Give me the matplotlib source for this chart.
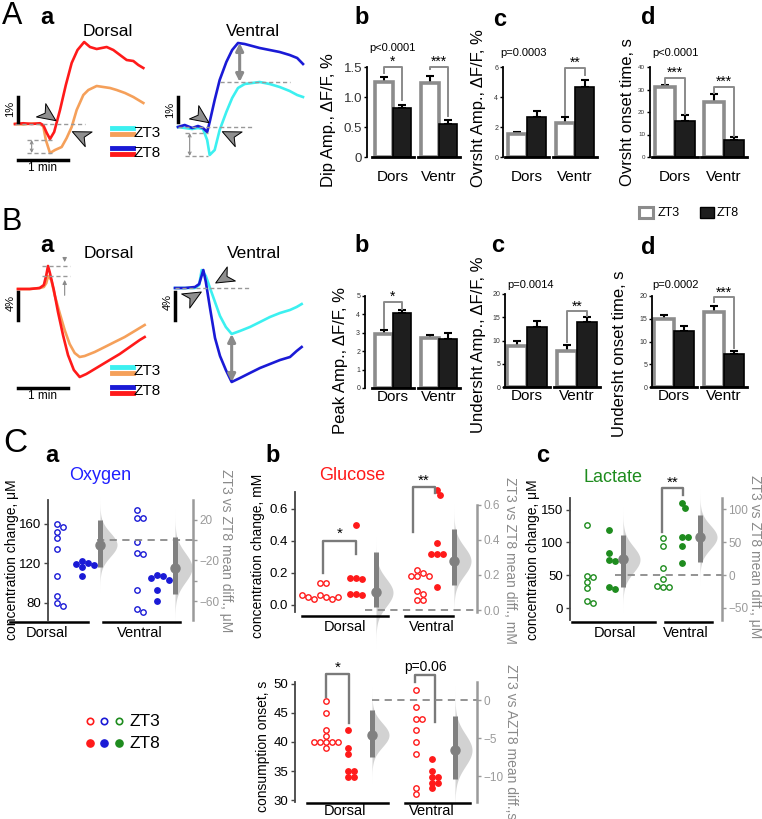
import numpy as np
import matplotlib
matplotlib.use("Agg")
import matplotlib.pyplot as plt
from matplotlib.lines import Line2D
from matplotlib.patches import Rectangle
from matplotlib.markers import MarkerStyle
from matplotlib.path import Path

plt.rcParams["font.family"] = ["Liberation Sans", "DejaVu Sans"]

W, H = 762, 819

RED = "#ff1a1a"
ORANGE = "#f5a05a"
BLUE = "#1a1ad6"
CYAN = "#3cf0f0"
GREEN = "#1e8c1e"
GREY = "#8c8c8c"

# ---------------- A a: fluorescence traces (time s, dF/F %) ----------------
A_DORS_T8 = [0, 10, 20, 30, 34, 38, 42, 47, 54, 61, 68, 75, 83, 90, 98, 104, 110, 118, 126, 134, 142, 148, 154]
A_DORS_ZT8 = [0, 0.03, 0, 0.03, -0.05, -0.35, -0.6, -0.32, 0.56, 1.56, 2.44, 2.96, 3.28, 3.08, 3.0, 3.04,
              3.08, 2.96, 2.76, 2.56, 2.52, 2.36, 2.24]
A_DORS_T3 = [0, 10, 20, 30, 34, 37, 42, 48, 56, 62, 68, 74, 82, 88, 98, 106, 114, 122, 132, 142, 154]
A_DORS_ZT3 = [0, -0.02, 0.02, 0, -0.1, -0.64, -1.16, -1.04, -0.92, -0.56, -0.12, 0.56, 1.16, 1.36, 1.52,
              1.48, 1.44, 1.36, 1.24, 1.08, 0.84]
A_VENT_T = [0, 8, 17, 24, 30, 35, 38, 44, 50, 58, 65, 72, 80, 89, 98, 110, 122, 134, 143, 150]
A_VENT_ZT8 = [0, 0.08, -0.04, 0.04, -0.04, -0.2, 0.2, 1.08, 1.88, 2.6, 3.08, 3.36, 3.32, 3.24, 3.16, 3.08,
              3.0, 2.88, 2.76, 2.52]
A_VENT_ZT3 = [0, -0.04, -0.08, -0.04, -0.08, -0.52, -1.12, -0.92, -0.12, 0.6, 1.16, 1.56, 1.72, 1.76, 1.8,
              1.72, 1.6, 1.44, 1.28, 1.2]

# ---------------- B a: fluorescence traces ----------------
B_DORS_T3 = [0, 14, 26, 31, 34, 36, 40, 44, 50, 56, 62, 68, 74, 80, 92, 104, 116, 128, 140, 152]
B_DORS_ZT3 = [0, 0, 0.14, 0.29, 0.86, 1.86, 1.29, -0.86, -3.43, -5.86, -7.86, -9.14, -9.71, -9.57, -9.0,
              -8.29, -7.57, -6.86, -6.0, -5.14]
B_DORS_T8 = [0, 14, 26, 31, 34, 36, 38, 43, 48, 54, 60, 67, 74, 82, 86, 98, 110, 122, 134, 146, 152]
B_DORS_ZT8 = [0, 0, 0.14, 0.57, 2.0, 3.29, 2.43, -0.14, -3.29, -6.57, -9.43, -11.57, -12.57, -12.14,
              -11.86, -11.0, -10.14, -9.29, -8.29, -7.29, -6.86]
B_VENT_T8 = [0, 12, 24, 29, 34, 37, 42, 48, 54, 61, 68, 78, 90, 102, 114, 126, 138, 146, 152]
B_VENT_ZT8 = [0, 0, 0.14, 0.57, 2.57, 0.86, -2.86, -7.14, -9.71, -11.71, -13.43, -12.86, -12.14, -11.43,
              -10.86, -10.29, -9.86, -9.0, -8.43]
B_VENT_T3 = [0, 12, 24, 29, 32, 37, 42, 48, 54, 61, 68, 78, 90, 102, 114, 126, 138, 146, 152]
B_VENT_ZT3 = [0, 0, 0, 0.43, 2.57, 1.71, 0, -2.0, -4.0, -5.57, -6.57, -6.14, -5.57, -4.86, -4.14, -3.57,
              -3.14, -2.71, -2.29]

# ---------------- bar charts (Dors, Ventr), mean and SEM ----------------
GROUPS = ["Dors", "Ventr"]
DIP_ZT3, DIP_ZT3_ERR = [1.25, 1.23], [0.08, 0.12]
DIP_ZT8, DIP_ZT8_ERR = [0.82, 0.55], [0.05, 0.07]
OVR_ZT3, OVR_ZT3_ERR = [1.55, 2.3], [0.12, 0.35]
OVR_ZT8, OVR_ZT8_ERR = [2.65, 4.7], [0.45, 0.45]
OVON_ZT3, OVON_ZT3_ERR = [31.0, 24.5], [1.0, 3.3]
OVON_ZT8, OVON_ZT8_ERR = [16.2, 7.7], [2.4, 1.1]
PEAK_ZT3, PEAK_ZT3_ERR = [2.95, 2.72], [0.2, 0.14]
PEAK_ZT8, PEAK_ZT8_ERR = [4.1, 2.65], [0.15, 0.33]
UND_ZT3, UND_ZT3_ERR = [8.9, 7.8], [1.0, 1.2]
UND_ZT8, UND_ZT8_ERR = [13.0, 13.9], [1.2, 1.2]
UNON_ZT3, UNON_ZT3_ERR = [14.9, 16.5], [0.9, 1.4]
UNON_ZT8, UNON_ZT8_ERR = [12.3, 7.2], [1.2, 0.7]

# ---------------- C: estimation plots ----------------
OXY_DORS_ZT3 = [159, 156, 151, 145, 134, 107, 87, 80, 76]
OXY_DORS_ZT8 = [122, 120, 119, 118, 116, 107]
OXY_VENT_ZT3 = [174, 166, 166, 141, 130, 129, 93, 73, 70]
OXY_VENT_ZT8 = [108, 107, 105, 103, 93, 82]
OXY_DIFF, OXY_LO, OXY_HI = [-4.5, -27], [-26, -53], [20, 3]

GLU_DORS_ZT3 = [0.14, 0.14, 0.06, 0.05, 0.04, 0.04, 0.05, 0.05, 0.06]
GLU_DORS_ZT8 = [0.50, 0.17, 0.16, 0.17, 0.07, 0.06, 0.07]
GLU_VENT_ZT3 = [0.22, 0.2, 0.18, 0.18, 0.18, 0.09, 0.07, 0.03, 0.03]
GLU_VENT_ZT8 = [0.72, 0.69, 0.39, 0.32, 0.32, 0.32, 0.11]
GLU_DIFF, GLU_LO, GLU_HI = [0.1, 0.28], [0.02, 0.14], [0.33, 0.46]

LAC_DORS_ZT3 = [126, 49, 48, 40, 31, 11, 8]
LAC_DORS_ZT8 = [119, 84, 73, 71, 32, 29]
LAC_VENT_ZT3 = [107, 95, 61, 44, 32, 32, 34]
LAC_VENT_ZT8 = [160, 152, 108, 108, 95, 69]
LAC_DIFF, LAC_LO, LAC_HI = [23.5, 57.5], [-17.5, 20], [60.5, 91]

ONS_DORS_ZT3 = [47, 45, 42, 41, 40, 40, 40, 40, 40, 39]
ONS_DORS_ZT8 = [42, 39, 38, 35, 35, 34, 34]
ONS_VENT_ZT3 = [49, 46, 44, 44, 42, 40, 38, 32, 31]
ONS_VENT_ZT8 = [37, 35, 34, 34, 33, 33, 32]
ONS_DIFF, ONS_LO, ONS_HI = [-4.6, -6.6], [-7.5, -10.4], [-1.3, -2.1]

fig = plt.figure(figsize=(W / 100, H / 100), dpi=100)


def px_axes(left, top, right, bottom):
    return fig.add_axes([left / W, 1 - bottom / H, (right - left) / W, (bottom - top) / H])


def ftext(x, y, s, **kw):
    kw.setdefault("ha", "center")
    kw.setdefault("va", "center")
    return fig.text(x / W, 1 - y / H, s, **kw)


def fline(xs, ys, **kw):
    fig.add_artist(Line2D([x / W for x in xs], [1 - y / H for y in ys], **kw))


DART = Path([(1, 0), (-1, 0.9), (-0.45, 0), (-1, -0.9), (1, 0)],
            [Path.MOVETO, Path.LINETO, Path.LINETO, Path.LINETO, Path.CLOSEPOLY])


def dart(ax, x, y, angle):
    ax.plot(x, y, marker=MarkerStyle(DART).rotated(deg=angle), ms=13, mfc="#8f8f8f", mec="black",
            mew=0.7, ls="none", clip_on=False)


def dash(ax, x0, x1, y):
    ax.plot([x0, x1], [y, y], ls=(0, (3, 2)), color="#999999", lw=1.0, clip_on=False)


def dbl_arrow(ax, x, y0, y1, thick=False):
    if thick:
        props = dict(arrowstyle="<|-|>", color="#8a8a8a", lw=2.2, mutation_scale=11, shrinkA=0, shrinkB=0)
    else:
        props = dict(arrowstyle="<->", color="#8a8a8a", lw=0.8, mutation_scale=5, shrinkA=0, shrinkB=0)
    ax.annotate("", xy=(x, y0), xytext=(x, y1), arrowprops=props)


def trace_axes(box, xlim, ylim):
    ax = px_axes(*box)
    ax.set_xlim(xlim)
    ax.set_ylim(ylim)
    ax.axis("off")
    return ax


# ======================= A a =======================
ax = trace_axes((5, 30, 165, 175), (-12, 180), (-2.04, 3.76))
ax.plot(A_DORS_T3, A_DORS_ZT3, color=ORANGE, lw=1.9)
ax.plot(A_DORS_T8, A_DORS_ZT8, color=RED, lw=1.9)
dash(ax, 0, 84, 0)
dash(ax, 14, 44, -0.64)
dash(ax, 14, 44, -1.16)
dbl_arrow(ax, 20, -0.64, -1.16)
dart(ax, 39, 0.36, -35)
dart(ax, 78, -0.44, 155)
ax.plot([3.6, 3.6], [0.08, 1.08], color="black", lw=2.5)
ax.plot([3.6, 63.6], [-1.44, -1.44], color="black", lw=2.5)

ax = trace_axes((165, 30, 310, 175), (-15.6, 158.4), (-1.92, 3.88))
ax.plot(A_VENT_T, A_VENT_ZT3, color=CYAN, lw=1.9)
ax.plot(A_VENT_T, A_VENT_ZT8, color=BLUE, lw=1.9)
dash(ax, 0, 90, 0)
dash(ax, 50, 134, 1.8)
dash(ax, 8, 36, -0.24)
dash(ax, 8, 36, -1.16)
dbl_arrow(ax, 14, -0.24, -1.16)
dbl_arrow(ax, 74, 1.8, 3.36, thick=True)
dart(ax, 28, 0.42, -35)
dart(ax, 62, -0.32, 155)
ax.plot([0, 0], [0.2, 1.2], color="black", lw=2.5)

ftext(12, 16, "A", fontsize=22)
ftext(47, 17, "a", fontsize=17, fontweight="bold")
ftext(108, 32, "Dorsal", fontsize=12.5)
ftext(253, 32, "Ventral", fontsize=12.5)
ftext(10, 109, "1%", fontsize=8, rotation=90)
ftext(170, 110, "1%", fontsize=8, rotation=90)
ftext(43, 168, "1 min", fontsize=8.5)
fline([112, 133], [128, 128], color=CYAN, lw=3.5)
fline([112, 133], [134, 134], color=ORANGE, lw=3.5)
fline([112, 133], [148, 148], color=BLUE, lw=3.5)
fline([112, 133], [154, 154], color=RED, lw=3.5)
ftext(134, 133, "ZT3", fontsize=11, ha="left")
ftext(134, 153, "ZT8", fontsize=11, ha="left")

# ======================= B a =======================
ax = trace_axes((5, 240, 165, 395), (-15.6, 176.4), (-15.14, 7.0))
ax.plot(B_DORS_T3, B_DORS_ZT3, color=ORANGE, lw=1.9)
ax.plot(B_DORS_T8, B_DORS_ZT8, color=RED, lw=1.9)
dash(ax, 29, 62, 3.29)
dash(ax, 29, 62, 1.86)
ax.annotate("", xy=(56, 3.45), xytext=(56, 4.9),
            arrowprops=dict(arrowstyle="-|>", color="#8a8a8a", lw=0.8, mutation_scale=6))
ax.annotate("", xy=(56, 1.7), xytext=(56, -1.3),
            arrowprops=dict(arrowstyle="-|>", color="#8a8a8a", lw=0.8, mutation_scale=6))
ax.plot([0, 0], [-0.43, -4.43], color="black", lw=2.5)
ax.plot([0, 60], [-14.1, -14.1], color="black", lw=2.5)

ax = trace_axes((165, 240, 310, 395), (-12, 162), (-15.29, 6.86))
ax.plot(B_VENT_T3, B_VENT_ZT3, color=CYAN, lw=1.9)
ax.plot(B_VENT_T8, B_VENT_ZT8, color=BLUE, lw=1.9)
dash(ax, 0, 90, 0)
dart(ax, 21, -1.14, 30)
dart(ax, 58, 1.43, -150)
dbl_arrow(ax, 68, -6.57, -13.43, thick=True)
ax.plot([0, 0], [-0.6, -4.6], color="black", lw=2.5)

ftext(12, 222, "B", fontsize=22)
ftext(47, 245, "a", fontsize=17, fontweight="bold")
ftext(109, 253, "Dorsal", fontsize=12.5)
ftext(254, 253, "Ventral", fontsize=12.5)
ftext(11, 303, "4%", fontsize=8, rotation=90)
ftext(168, 302, "4%", fontsize=8, rotation=90)
ftext(43, 396, "1 min", fontsize=8.5)
fline([112, 133], [367, 367], color=CYAN, lw=3.5)
fline([112, 133], [373, 373], color=ORANGE, lw=3.5)
fline([112, 133], [387, 387], color=BLUE, lw=3.5)
fline([112, 133], [393, 393], color=RED, lw=3.5)
ftext(134, 371, "ZT3", fontsize=11, ha="left")
ftext(134, 391, "ZT8", fontsize=11, ha="left")


# ======================= bar charts =======================
def bar_panel(box, c0, unit, ylim, ticks, ticklabels, zt3, e3, zt8, e8, brackets, tick_fs=5,
              label_y=None, w=0.4):
    l, t, r, b = box
    ax = px_axes(l, t, r, b)
    ax.set_xlim((l - c0) / unit, (r - c0) / unit)
    ax.set_ylim(ylim)
    x = np.arange(len(GROUPS))
    ax.bar(x - w / 2, zt3, w, color="white", edgecolor=GREY, linewidth=2.6, zorder=2)
    ax.bar(x + w / 2, zt8, w, color="#1e1e1e", edgecolor="black", linewidth=1.2, zorder=2)
    ax.errorbar(x - w / 2, zt3, yerr=[np.zeros(len(x)), e3], fmt="none", ecolor="black",
                elinewidth=1.5, capsize=3, capthick=1.5, zorder=1)
    ax.errorbar(x + w / 2, zt8, yerr=[np.zeros(len(x)), e8], fmt="none", ecolor="black",
                elinewidth=1.5, capsize=3, capthick=1.5, zorder=1)
    for g in x:
        ax.plot([g - 0.46, g + 0.46], [ylim[0], ylim[0]], color="black", lw=2, clip_on=False, zorder=3)
    for g, yl, yt, yr, lab, ly in brackets:
        ax.plot([g - w / 2, g - w / 2, g + w / 2, g + w / 2], [yl, yt, yt, yr], color="#8a8a8a", lw=1.4,
                clip_on=False)
        ax.text(g, ly, lab, ha="center", va="center", fontsize=10, clip_on=False)
    for s in ("top", "right", "bottom"):
        ax.spines[s].set_visible(False)
    ax.spines["left"].set_linewidth(1.3)
    ax.set_yticks(ticks, ticklabels)
    ax.tick_params(axis="y", length=2.5, width=1, labelsize=tick_fs, pad=1, labelcolor="#333333")
    ax.set_xticks([])
    for g, name in zip(x, GROUPS):
        ax.text(g, label_y, name, transform=ax.get_xaxis_transform(), ha="center", va="center",
                fontsize=11)
    return ax


a_lab = -(177 - 157) / 90
bar_panel((367, 67, 460, 157), 393, 46, (0, 1.5), [0, 0.5, 1.0, 1.5], ["0", "0.5", "1.0", "1.5"],
          DIP_ZT3, DIP_ZT3_ERR, DIP_ZT8, DIP_ZT8_ERR,
          [(0, 1.4, 1.5, 0.95, "*", 1.58), (1, 1.47, 1.5, 0.68, "***", 1.58)], tick_fs=9.5, label_y=a_lab)
bar_panel((503, 67, 597, 157), 527, 48, (0, 6), [0, 2, 4, 6], ["0", "2", "4", "6"],
          OVR_ZT3, OVR_ZT3_ERR, OVR_ZT8, OVR_ZT8_ERR,
          [(1, 2.8, 5.93, 5.45, "**", 6.3)], label_y=a_lab)
bar_panel((650, 67, 745, 157), 675, 49, (0, 40), [0, 10, 20, 30, 40], ["0", "10", "20", "30", "40"],
          OVON_ZT3, OVON_ZT3_ERR, OVON_ZT8, OVON_ZT8_ERR,
          [(0, 32.5, 35, 19.2, "***", 37.3), (1, 28.5, 31, 9.5, "***", 33.3)], tick_fs=4.5,
          label_y=a_lab)

b_lab = -(397 - 388) / 92
bar_panel((365, 296, 460, 388), 393, 46, (0, 5), [0, 1, 2, 3, 4, 5], ["0", "1", "2", "3", "4", "5"],
          PEAK_ZT3, PEAK_ZT3_ERR, PEAK_ZT8, PEAK_ZT8_ERR,
          [(0, 3.26, 4.67, 4.3, "*", 4.95)], label_y=b_lab)
bar_panel((505, 294, 598, 387), 527, 50, (0, 20), [0, 5, 10, 15, 20], ["0", "5", "10", "15", "20"],
          UND_ZT3, UND_ZT3_ERR, UND_ZT8, UND_ZT8_ERR,
          [(1, 9.7, 16.4, 15.3, "**", 17.3)], label_y=b_lab)
bar_panel((652, 296, 745, 387), 674, 50, (0, 20), [0, 5, 10, 15, 20], ["0", "5", "10", "15", "20"],
          UNON_ZT3, UNON_ZT3_ERR, UNON_ZT8, UNON_ZT8_ERR,
          [(1, 18.6, 19.7, 8.6, "***", 20.8)], label_y=b_lab)

for (x, y, s) in [(362, 18, "b"), (500, 20, "c"), (648, 18, "d"),
                  (362, 245, "b"), (498, 245, "c"), (648, 248, "d")]:
    ftext(x, y, s, fontsize=17, fontweight="bold")
ftext(328, 120, "Dip Amp., ΔF/F, %", fontsize=12, rotation=90)
ftext(478, 108, "Ovrsht Amp., ΔF/F, %", fontsize=12, rotation=90)
ftext(628, 112, "Ovrsht onset time, s", fontsize=12, rotation=90)
ftext(340, 360, "Peak Amp., ΔF/F, %", fontsize=12, rotation=90)
ftext(478, 345, "Undersht Amp., ΔF/F, %", fontsize=12, rotation=90)
ftext(620, 354, "Undersht onset time, s", fontsize=12, rotation=90)
ftext(392, 48, "p<0.0001", fontsize=8)
ftext(524, 53, "p=0.0003", fontsize=8)
ftext(675, 53, "p<0.0001", fontsize=8)
ftext(531, 285, "p=0.0014", fontsize=8)
ftext(676, 285, "p=0.0002", fontsize=8)
fig.add_artist(Rectangle((639 / W, 1 - 218 / H), 14 / W, 11 / H, transform=fig.transFigure,
                         facecolor="white", edgecolor=GREY, lw=2.2))
fig.add_artist(Rectangle((700 / W, 1 - 218 / H), 14 / W, 11 / H, transform=fig.transFigure,
                         facecolor="#1e1e1e", edgecolor="black", lw=1))
ftext(658, 213, "ZT3", fontsize=9, ha="left")
ftext(717, 213, "ZT8", fontsize=9, ha="left")

# ======================= C: estimation plots =======================
DOT = 5.6  # marker diameter in pixels used for the swarm layout


def swarm_x(ax, x0, vals):
    disp = ax.transData.transform(np.column_stack([np.full(len(vals), x0), vals]))
    cands = [0.0]
    for i in range(1, 20):
        cands += [i * DOT * 0.55, -i * DOT * 0.55]
    placed = []
    for px, py in disp:
        for c in cands:
            cx = px + c
            if all((cx - qx) ** 2 + (py - qy) ** 2 >= DOT * DOT * 0.95 for qx, qy in placed):
                break
        placed.append((cx, py))
    return ax.transData.inverted().transform(placed)[:, 0]


def est_panel(box, pos, lim_l, lim_r, groups, color, diff, lo, hi, zero_x0, vwidth=17):
    l, t, r, b = box
    ax = px_axes(l, t, r, b)
    ax.set_xlim(l, r)
    ax.set_ylim(lim_l)
    ax2 = ax.twinx()
    ax2.set_ylim(lim_r)
    for a in (ax, ax2):
        a.spines["top"].set_visible(False)
        a.spines["bottom"].set_visible(False)
        a.set_xticks([])
    ax.spines["right"].set_visible(False)
    ax2.spines["left"].set_visible(False)
    ax2.spines["right"].set_visible(True)
    ax.spines["left"].set_color("#444444")
    ax.spines["left"].set_linewidth(1.3)
    ax2.spines["right"].set_color("#9a9a9a")
    ax2.spines["right"].set_linewidth(1.8)
    ax.tick_params(axis="y", length=3, width=1, labelsize=9.5, pad=2, color="#444444")
    ax2.tick_params(axis="y", length=3, width=1, labelsize=8.5, pad=1.5, color="#9a9a9a",
                    labelcolor="#9a9a9a")
    ax2.plot([zero_x0, r], [0, 0], ls=(0, (4, 3)), color="#8a8a8a", lw=1.3, clip_on=False)
    for vals, p, filled in zip(groups, [pos[0], pos[1], pos[3], pos[4]], [False, True, False, True]):
        xs = swarm_x(ax, p, vals)
        ax.plot(xs, vals, "o", ms=3.9, mec=color, mfc=color if filled else "white", mew=1.0,
                ls="none", clip_on=False)
    for j, p in enumerate([pos[2], pos[5]]):
        sd = (hi[j] - lo[j]) / 3.92
        yy = np.linspace(diff[j] - 4 * sd, diff[j] + 4 * sd, 200)
        dens = np.exp(-0.5 * ((yy - diff[j]) / sd) ** 2)
        ax2.fill_betweenx(yy, p, p + vwidth * dens, color="#d2d2d2", lw=0, clip_on=False)
        ax2.plot([p, p], [lo[j], hi[j]], color="#808080", lw=3.6, solid_capstyle="butt")
        ax2.plot(p, diff[j], "o", ms=6.5, color="#808080")
    return ax, ax2


def bracket(ax, x0, x1, yl, yt, yr, lab, ly, fs=11):
    ax.plot([x0, x0, x1, x1], [yl, yt, yt, yr], color="#7a7a7a", lw=1.7, clip_on=False)
    ax.text((x0 + x1) / 2, ly, lab, ha="center", va="center", fontsize=fs, clip_on=False)


def group_lines(y, segs, labels, ly):
    for (x0, x1), (lx, name) in zip(segs, labels):
        fline([x0, x1], [y, y], color="black", lw=1.8)
        ftext(lx, ly, name, fontsize=10.5)


# C a: oxygen
ax, ax2 = est_panel((48, 500, 193, 620), [57, 82, 100, 137, 157, 175], (62.3, 183.8), (-78.4, 39.2),
                    [OXY_DORS_ZT3, OXY_DORS_ZT8, OXY_VENT_ZT3, OXY_VENT_ZT8], BLUE,
                    OXY_DIFF, OXY_LO, OXY_HI, 97)
ax.set_yticks([80, 120, 160])
ax2.set_yticks([-60, -40, -20, 0, 20], ["−60", "", "−20", "", "20"])
group_lines(622, [(10, 88), (103, 180)], [(47, "Dorsal"), (140, "Ventral")], 633)
ftext(15, 443, "C", fontsize=24)
ftext(52, 455, "a", fontsize=17, fontweight="bold")
ftext(100, 475, "Oxygen", fontsize=13, color="#2020ff")
ftext(12, 560, "concentration change, μM", fontsize=10, rotation=90)
ftext(226, 551, "ZT3 vs ZT8 mean diff., μM", fontsize=10, rotation=-90, color="#8a8a8a")

# C b: glucose
ax, ax2 = est_panel((295, 492, 477, 612), [320, 356, 376, 417, 437, 454], (-0.044, 0.706),
                    (-0.0114, 0.674), [GLU_DORS_ZT3, GLU_DORS_ZT8, GLU_VENT_ZT3, GLU_VENT_ZT8], RED,
                    GLU_DIFF, GLU_LO, GLU_HI, 365)
ax.set_yticks([0, 0.2, 0.4, 0.6], ["0.0", "0.2", "0.4", "0.6"])
ax2.set_yticks([0, 0.2, 0.4, 0.6], ["0.0", "0.2", "0.4", "0.6"])
ax2.spines["right"].set_bounds(-0.0114, 0.6)
bracket(ax, 323, 356, 0.2, 0.4, 0.32, "*", 0.445)
bracket(ax, 413, 435, 0.456, 0.74, 0.7, "**", 0.775)
group_lines(616, [(302, 388), (405, 453)], [(345, "Dorsal"), (432, "Ventral")], 627)
ftext(273, 455, "b", fontsize=17, fontweight="bold")
ftext(352, 475, "Glucose", fontsize=13, color=RED)
ftext(258, 556, "concentration change, mM", fontsize=10, rotation=90)
ftext(510, 560, "ZT3 vs ZT8 mean diff., mM", fontsize=10, rotation=-90, color="#8a8a8a")

# C c: lactate
ax, ax2 = est_panel((570, 498, 722, 620), [587, 609, 623, 663, 682, 700], (-18.3, 167.9), (-68.2, 116.7),
                    [LAC_DORS_ZT3, LAC_DORS_ZT8, LAC_VENT_ZT3, LAC_VENT_ZT8], GREEN,
                    LAC_DIFF, LAC_LO, LAC_HI, 615)
ax.set_yticks([0, 50, 100, 150])
ax2.set_yticks([-50, 0, 50, 100], ["−50", "0", "50", "100"])
bracket(ax, 662, 683, 116, 183, 172, "**", 191)
group_lines(622, [(572, 655), (665, 712)], [(615, "Dorsal"), (686, "Ventral")], 633)
ftext(543, 455, "c", fontsize=17, fontweight="bold")
ftext(613, 477, "Lactate", fontsize=13, color=GREEN)
ftext(533, 560, "concentration change, μM", fontsize=10, rotation=90)
ftext(755, 557, "ZT3 vs ZT8 mean diff., μM", fontsize=10, rotation=-90, color="#8a8a8a")

# C bottom: consumption onset
ax, ax2 = est_panel((295, 682, 477, 802), [326, 348, 372, 416, 432, 455], (29.66, 50.34), (-13.42, 2.37),
                    [ONS_DORS_ZT3, ONS_DORS_ZT8, ONS_VENT_ZT3, ONS_VENT_ZT8], RED,
                    ONS_DIFF, ONS_LO, ONS_HI, 372)
ax.set_yticks([30, 35, 40, 45, 50])
ax2.set_yticks([-10, -5, 0], ["−10", "−5", "0"])
bracket(ax, 326, 349, 47.8, 51.7, 43.3, "*", 52.8)
bracket(ax, 415, 435, 50.3, 51.55, 43.4, "p=0.06", 53.0, fs=10)
group_lines(803, [(307, 388), (405, 470)], [(345, "Dorsal"), (432, "Ventral")], 811)
ftext(263, 746, "consumption onset, s", fontsize=10, rotation=90)
ftext(511, 742, "ZT3 vs AZT8 mean diff.,s", fontsize=10, rotation=-90, color="#8a8a8a")

# legend for the estimation plots
for x, c in [(90, RED), (104, BLUE), (119, GREEN)]:
    fig.add_artist(Line2D([x / W], [1 - 721 / H], marker="o", ms=4.6, mfc="white", mec=c, mew=1.2))
    fig.add_artist(Line2D([x / W], [1 - 743 / H], marker="o", ms=5.2, mfc=c, mec=c, mew=1.0))
ftext(130, 721, "ZT3", fontsize=12.5, ha="left")
ftext(130, 743, "ZT8", fontsize=12.5, ha="left")

fig.savefig("out.png", dpi=100)
